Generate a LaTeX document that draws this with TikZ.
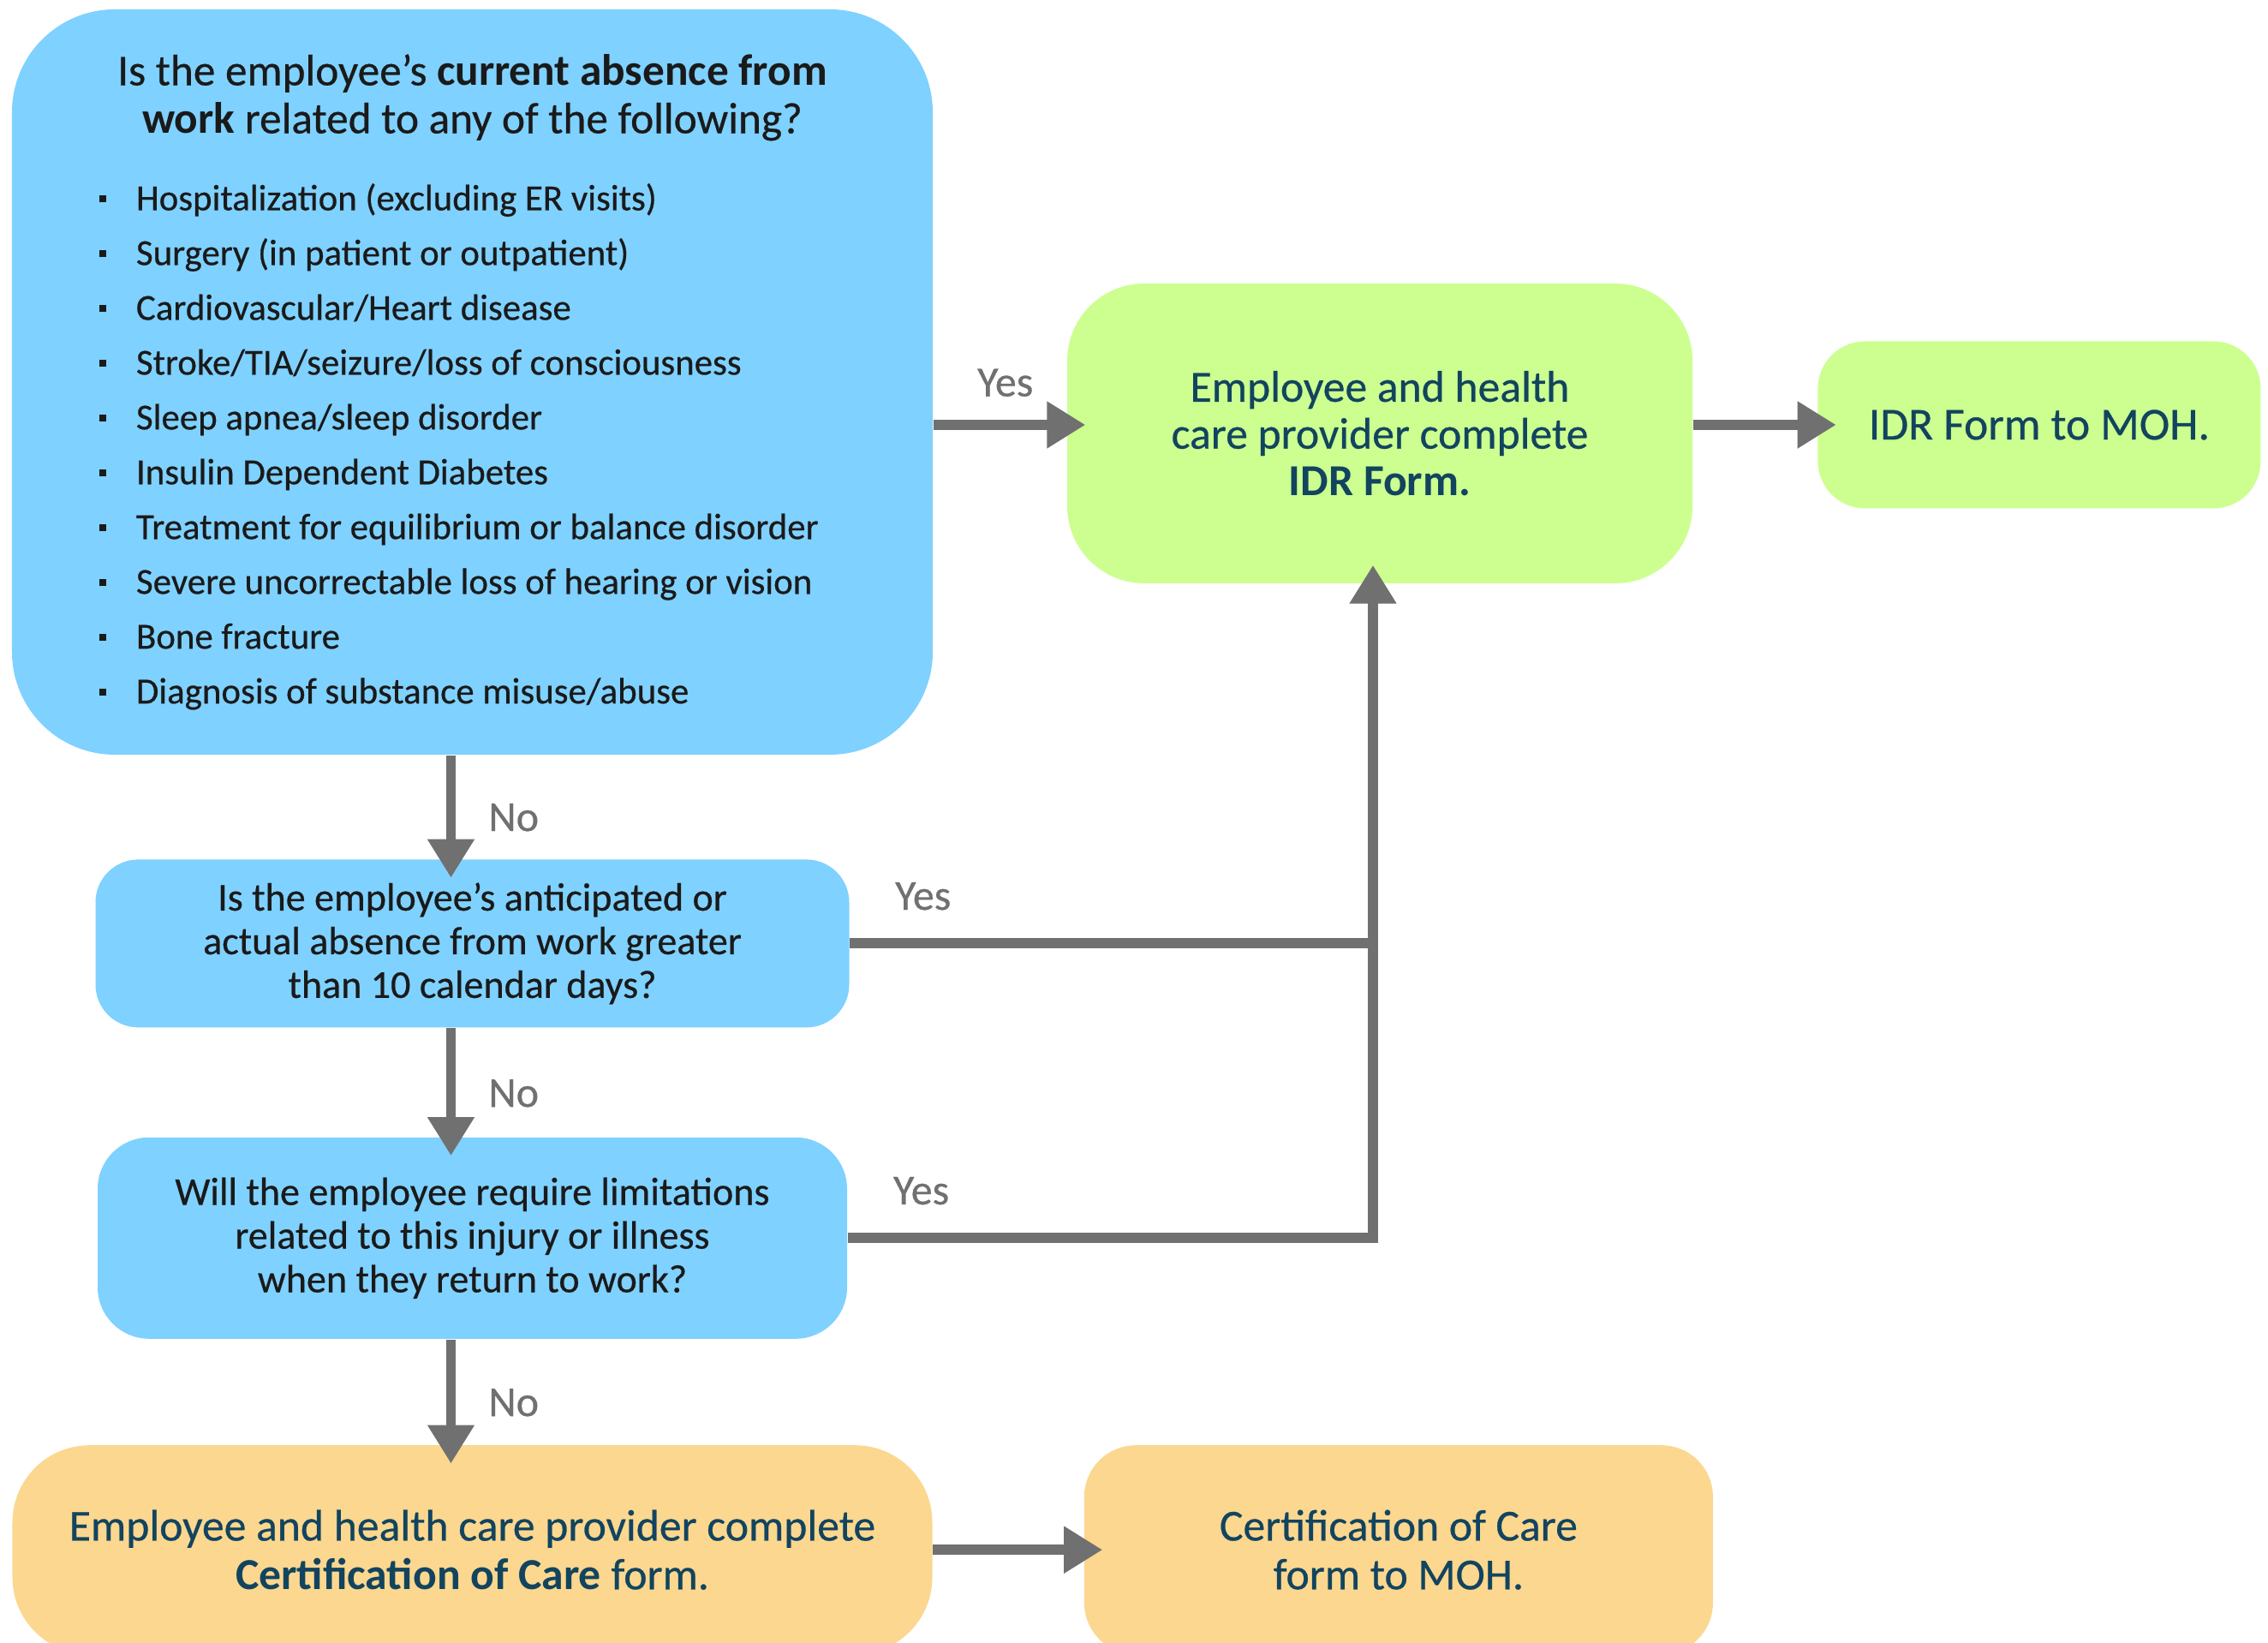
\documentclass[tikz,border=0pt]{standalone}
\usepackage{fontspec}
\setmainfont{Carlito}[UprightFeatures={FakeBold=0.5}]
\usetikzlibrary{positioning, arrows.meta, calc}
\definecolor{qblue}{HTML}{7FD1FF}
\definecolor{idrgreen}{HTML}{CCFF90}
\definecolor{careorange}{HTML}{FBD78F}
\definecolor{linegray}{HTML}{707070}
\definecolor{inkblue}{HTML}{12445F}
\definecolor{inkdark}{HTML}{1A1A1A}
\newcommand{\bitem}[1]{\raisebox{0.09cm}{\rule{0.08cm}{0.08cm}}\hspace{0.35cm}#1}

\begin{document}
\begin{tikzpicture}[
    question/.style={rectangle, rounded corners=0.5cm, fill=qblue, text=inkdark, align=center, inner sep=0pt, font=\fontsize{13.1}{14.5}\selectfont},
    idrstep/.style={rectangle, rounded corners=0.9cm, fill=idrgreen, text=inkblue, align=center, inner sep=0pt, font=\fontsize{14.7}{15.6}\selectfont},
    carestep/.style={rectangle, rounded corners=0.8cm, fill=careorange, text=inkblue, align=center, inner sep=0pt, font=\fontsize{14.7}{16.2}\selectfont},
    answer/.style={inner sep=0pt, text=linegray, font=\fontsize{14.2}{16}\selectfont},
    line/.style={line width=3.4pt, draw=linegray},
    arrow/.style={line, -{Triangle[length=4.5mm,width=5.2mm]}, shorten >=-0.22cm}
  ]
  \useasboundingbox (0,0) rectangle (26.48,19.18);
  \clip (0,0) rectangle (26.48,19.18);

  % Questions
  \node (main) [question, rounded corners=1.2cm, minimum width=10.75cm, minimum height=8.7cm,
    align=left, font=\fontsize{12.2}{18.2}\selectfont] at (5.515,14.72)
    {{\fontsize{14.6}{15.9}\selectfont\makebox[8.71cm]{Is the employee’s \textbf{current absence from}}}\\[-0.08cm]
     {\fontsize{14.6}{15.9}\selectfont\makebox[8.71cm]{\textbf{work} related to any of the following?}}\\[0.26cm]
     \bitem{Hospitalization (excluding ER visits)}\\
     \bitem{Surgery (in patient or outpatient)}\\
     \bitem{Cardiovascular/Heart disease}\\
     \bitem{Stroke/TIA/seizure/loss of consciousness}\\
     \bitem{Sleep apnea/sleep disorder}\\
     \bitem{Insulin Dependent Diabetes}\\
     \bitem{Treatment for equilibrium or balance disorder}\\
     \bitem{Severe uncorrectable loss of hearing or vision}\\
     \bitem{Bone fracture}\\
     \bitem{Diagnosis of substance misuse/abuse}};

  \node (ten) [question, minimum width=8.8cm, minimum height=1.96cm, below=1.21cm of main]
    {Is the employee’s anticipated or\\actual absence from work greater\\than 10 calendar days?};

  \node (limit) [question, rounded corners=0.6cm, minimum width=8.75cm, minimum height=2.35cm, below=1.27cm of ten]
    {Will the employee require limitations\\related to this injury or illness\\when they return to work?};

  % Outcomes
  \node (idr) [idrstep, minimum width=7.3cm, minimum height=3.5cm] at (16.11,14.12)
    {Employee and health\\care provider complete\\\textbf{IDR Form.}};
  \coordinate (riser) at ([xshift=-0.08cm]idr.south);
  \node (idrmoh) [idrstep, rounded corners=0.55cm, minimum width=5.17cm, minimum height=1.95cm, right=1.45cm of idr, yshift=0.1cm,
    font=\fontsize{15.2}{16}\selectfont]
    {IDR Form to MOH.};

  \node (cert) [carestep, rounded corners=0.9cm, minimum width=10.74cm, minimum height=2.44cm, below=1.23cm of limit]
    {Employee and health care provider complete\\\textbf{Certification of Care} form.};
  \node (certmoh) [carestep, rounded corners=0.6cm, minimum width=7.34cm, minimum height=2.44cm, right=1.76cm of cert]
    {Certification of Care\\form to MOH.};

  % Connectors
  \draw [arrow] ([xshift=-0.25cm]main.south) -- node[answer, pos=0.6, right=0.38cm] {No} ([xshift=-0.25cm]ten.north);
  \draw [arrow] ([xshift=-0.25cm]ten.south) -- node[answer, pos=0.6, right=0.38cm] {No} ([xshift=-0.25cm]limit.north);
  \draw [arrow] ([xshift=-0.25cm]limit.south) -- node[answer, pos=0.6, right=0.38cm] {No} ([xshift=-0.25cm]cert.north);

  \draw [arrow] (main.east |- idrmoh.west) -- node[answer, pos=0.54, above=0.27cm] {Yes} (idr.west |- idrmoh.west);
  \draw [arrow] (idr.east |- idrmoh.west) -- (idrmoh.west);

  \draw [line] (ten.east) -- node[answer, pos=0.14, above=0.33cm] {Yes} (ten.east -| riser);
  \draw [arrow] (limit.east) -| node[answer, pos=0.07, above=0.33cm] {Yes} (riser);

  \draw [arrow] (cert.east) -- (certmoh.west);
\end{tikzpicture}
\end{document}
